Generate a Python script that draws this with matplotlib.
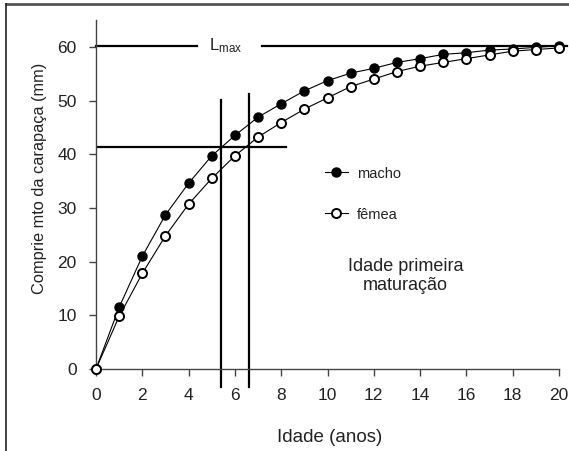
import matplotlib
matplotlib.use("Agg")
import matplotlib.pyplot as plt
from matplotlib.lines import Line2D

plt.rcParams['font.family'] = ['Liberation Sans', 'DejaVu Sans']
plt.rcParams['mathtext.default'] = 'regular'

# idade (anos)
idade = list(range(0, 21))
# comprimento da carapaça (mm)
macho = [0, 11.5, 21.0, 28.7, 34.6, 39.7, 43.5, 46.9, 49.4, 51.8, 53.7,
         55.1, 56.0, 57.1, 57.8, 58.6, 58.9, 59.4, 59.6, 59.9, 60.2]
femea = [0, 9.8, 17.8, 24.8, 30.7, 35.5, 39.7, 43.2, 45.9, 48.4, 50.5,
         52.6, 54.0, 55.4, 56.4, 57.1, 57.8, 58.5, 59.2, 59.5, 59.8]

L_max = 60.2
L_mat = 41.4          # comprimento de primeira maturação
idade_mat = [5.4, 6.6]  # macho, fêmea
topo_mat = [50.1, 51.2]

fig = plt.figure(figsize=(5.69, 4.51), dpi=100)
ax = fig.add_axes([96/569, 1-369/451, 463/569, 349/451])

ax.plot(idade, macho, '-o', color='black', lw=0.8, ms=6.5, mfc='black',
        mec='black', mew=1.0, clip_on=False, zorder=5, label='macho')
ax.plot(idade, femea, '-o', color='black', lw=0.8, ms=6.5, mfc='white',
        mec='black', mew=1.4, clip_on=False, zorder=5, label='fêmea')

# linha de L max com o texto no meio
ax.plot([0, 4.36], [L_max, L_max], color='black', lw=1.6, clip_on=False)
ax.plot([7.17, 20.35], [L_max, L_max], color='black', lw=1.6, clip_on=False)
ax.text(5.6, L_max, '$L_{max}$', ha='center', va='center', fontsize=12,
        color='#222222')

# linhas da primeira maturação
ax.plot([0, 8.2], [L_mat, L_mat], color='black', lw=1.6)
for xm, ym in zip(idade_mat, topo_mat):
    ax.plot([xm, xm], [-3.3, ym], color='black', lw=1.6, clip_on=False)

ax.text(13.38, 17.4, 'Idade primeira\nmaturação', ha='center', va='center',
        fontsize=13, color='#222222', linespacing=1.15)

leg = ax.legend(loc='upper left', bbox_to_anchor=(0.494, 0.58),
                frameon=False, fontsize=10.5, handlelength=1.6,
                handletextpad=0.6, labelspacing=1.85, borderpad=0,
                borderaxespad=0)
for t in leg.get_texts():
    t.set_color('#222222')

ax.set_xlim(0, 20)
ax.set_ylim(0, 65)
ax.set_xticks(range(0, 21, 2))
ax.set_yticks(range(0, 61, 10))
for s in ['top', 'right']:
    ax.spines[s].set_visible(False)
for s in ['left', 'bottom']:
    ax.spines[s].set_color('#444444')
    ax.spines[s].set_linewidth(1.0)
ax.tick_params(direction='out', length=5, width=1.0, color='#444444',
               labelsize=12.5, labelcolor='#222222')
ax.tick_params(axis='x', pad=9)
ax.tick_params(axis='y', pad=9)

ax.set_xlabel('Idade (anos)', fontsize=13.5, color='#222222')
ax.xaxis.set_label_coords(0.505, -0.172)
ax.set_ylabel('Comprie mto da carapaça (mm)', fontsize=11.8, color='#222222')
ax.yaxis.set_label_coords(-0.106, 0.546)

# moldura
fig.add_artist(Line2D([6/569, 1], [1-4/451, 1-4/451], color='#555555',
                      lw=2.0, transform=fig.transFigure))
fig.add_artist(Line2D([6/569, 6/569], [0, 1-4/451], color='#222222',
                      lw=1.2, transform=fig.transFigure))

fig.savefig('out.png', dpi=100)
